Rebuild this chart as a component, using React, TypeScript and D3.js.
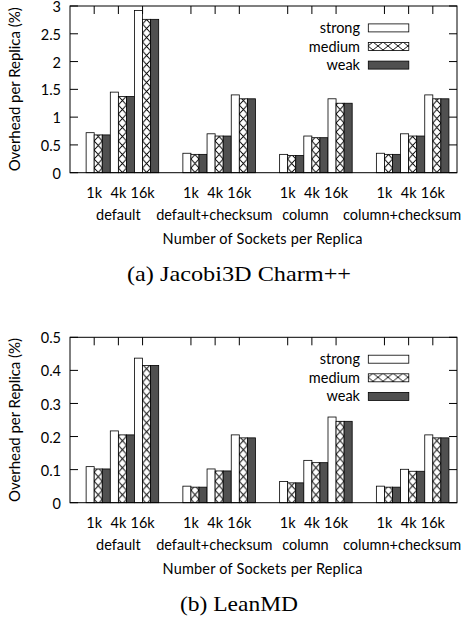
import React from "react";
import * as d3 from "d3";

// categories / cluster labels
const categories = ["default", "default+checksum", "column", "column+checksum"];
const sizes = ["1k", "4k", "16k"];
const seriesNames = ["strong", "medium", "weak"];

// Jacobi3D Charm++ (order: category x size)
const jacobiStrong = [0.72, 1.45, 2.92, 0.35, 0.7, 1.4, 0.33, 0.66, 1.33, 0.35, 0.7, 1.4];
const jacobiMedium = [0.68, 1.37, 2.76, 0.33, 0.66, 1.33, 0.31, 0.63, 1.25, 0.33, 0.66, 1.33];
const jacobiWeak = [0.68, 1.37, 2.76, 0.33, 0.66, 1.33, 0.31, 0.63, 1.25, 0.33, 0.66, 1.33];

// LeanMD
const leanStrong = [0.109, 0.217, 0.437, 0.05, 0.102, 0.205, 0.064, 0.128, 0.259, 0.05, 0.101, 0.205];
const leanMedium = [0.102, 0.205, 0.415, 0.047, 0.096, 0.196, 0.06, 0.121, 0.246, 0.047, 0.095, 0.196];
const leanWeak = [0.102, 0.205, 0.415, 0.047, 0.096, 0.196, 0.06, 0.121, 0.246, 0.047, 0.095, 0.196];

const jacobiTicks = [0, 0.5, 1, 1.5, 2, 2.5, 3];
const leanTicks = [0, 0.1, 0.2, 0.3, 0.4, 0.5];

// layout, in bar units
const UNITS = 48;
const GROUP_STEP = 12;
const GROUP_START = 2;
const groupLabelAt = [6, 17.9, 29.2, 41.2];

const W = 467;
const H = 621;
const left = 70;
const right = 457;
const sans = "Lato, 'Open Sans', sans-serif";
const fs = 14.5;
const weakFill = "#505050";

const x = d3.scaleLinear().domain([0, UNITS]).range([left, right]);

type PanelProps = {
  top: number;
  height: number;
  max: number;
  ticks: number[];
  series: number[][];
  caption: string;
  captionWidth: number;
  pid: string;
};

const Panel = ({ top, height, max, ticks, series, caption, captionWidth, pid }: PanelProps) => {
  const y = d3.scaleLinear().domain([0, max]).range([top + height, top]);
  const bottom = top + height;
  const bw = x(1) - x(0);
  const fmt = d3.format("~g");

  const clusterPos: number[] = [];
  categories.forEach((_, g) =>
    sizes.forEach((_, k) => clusterPos.push(GROUP_START + g * GROUP_STEP + k * 3))
  );

  return (
    <g>
      <defs>
        <pattern id={`hatch-${pid}`} patternUnits="userSpaceOnUse" x={x(0)} y={top} width={bw} height={9}>
          <rect width={bw} height={9} fill="white" />
          <path d={`M0,0L${bw},9M${bw},0L0,9`} stroke="black" strokeWidth={0.9} fill="none" />
        </pattern>
        <pattern id={`hatchL-${pid}`} patternUnits="userSpaceOnUse" x={368} y={top} width={10} height={8}>
          <rect width={10} height={8} fill="white" />
          <path d="M0,0L10,8M10,0L0,8" stroke="black" strokeWidth={0.9} fill="none" />
        </pattern>
      </defs>

      {/* bottom ticks (behind bars) */}
      {clusterPos.map((c, i) => (
        <line key={`bt${i}`} x1={x(c + 1)} x2={x(c + 1)} y1={bottom} y2={bottom - 8} stroke="black" />
      ))}

      {/* bars */}
      {clusterPos.map((c, i) =>
        series.map((s, j) => {
          const fill = j === 0 ? "white" : j === 1 ? `url(#hatch-${pid})` : weakFill;
          return (
            <rect
              key={`b${i}-${j}`}
              x={x(c + j)}
              y={y(s[i])}
              width={bw}
              height={bottom - y(s[i])}
              fill={fill}
              stroke="black"
              strokeWidth={0.8}
            />
          );
        })
      )}

      {/* frame */}
      <rect x={left} y={top} width={right - left} height={height} fill="none" stroke="black" strokeWidth={1} />

      {/* y ticks, mirrored */}
      {ticks.map((t) => (
        <g key={`yt${t}`}>
          <line x1={left} x2={left + 8} y1={y(t)} y2={y(t)} stroke="black" />
          <line x1={right} x2={right - 8} y1={y(t)} y2={y(t)} stroke="black" />
          <text x={61} y={y(t)} dy="0.42em" textAnchor="end" fontFamily={sans} fontSize={fs}>
            {fmt(t)}
          </text>
        </g>
      ))}

      {/* top ticks + size labels */}
      {clusterPos.map((c, i) => (
        <g key={`xt${i}`}>
          <line x1={x(c + 1)} x2={x(c + 1)} y1={top} y2={top + 8} stroke="black" />
          <text x={x(c + 1)} y={bottom + 20} dy="0.35em" textAnchor="middle" fontFamily={sans} fontSize={fs}>
            {sizes[i % 3]}
          </text>
        </g>
      ))}

      {categories.map((cat, g) => (
        <text key={cat} x={x(groupLabelAt[g])} y={bottom + 42.5} dy="0.35em" textAnchor="middle" fontFamily={sans} fontSize={fs}>
          {cat}
        </text>
      ))}

      <text x={262.5} y={bottom + 66.5} dy="0.35em" textAnchor="middle" fontFamily={sans} fontSize={fs} textLength={200}>
        Number of Sockets per Replica
      </text>

      <text
        transform={`translate(15,${top + height / 2}) rotate(-90)`}
        dy="0.35em"
        textAnchor="middle"
        fontFamily={sans}
        fontSize={15}
        textLength={164}
      >
        Overhead per Replica (%)
      </text>

      {/* legend */}
      {seriesNames.map((name, j) => {
        const cy = top + 21.9 + j * 18.6;
        const fill = j === 0 ? "white" : j === 1 ? `url(#hatchL-${pid})` : weakFill;
        return (
          <g key={name}>
            <text x={360} y={cy} dy="0.35em" textAnchor="end" fontFamily={sans} fontSize={fs}>
              {name}
            </text>
            <rect x={368.3} y={cy - 4} width={40.5} height={8} fill={fill} stroke="black" strokeWidth={0.8} />
          </g>
        );
      })}

      <text
        x={239}
        y={bottom + 101}
        dy="0.35em"
        textAnchor="middle"
        fontFamily="'Liberation Serif', serif"
        fontSize={21}
        textLength={captionWidth}
        lengthAdjust="spacingAndGlyphs"
      >
        {caption}
      </text>
    </g>
  );
};

const App = () => (
  <svg width={W} height={H} style={{ position: "absolute", left: 0, top: 0, background: "white" }}>
    <Panel
      pid="a"
      top={6}
      height={166.7}
      max={3}
      ticks={jacobiTicks}
      series={[jacobiStrong, jacobiMedium, jacobiWeak]}
      caption="(a) Jacobi3D Charm++"
      captionWidth={224}
    />
    <Panel
      pid="b"
      top={337.3}
      height={165.4}
      max={0.5}
      ticks={leanTicks}
      series={[leanStrong, leanMedium, leanWeak]}
      caption="(b) LeanMD"
      captionWidth={118}
    />
  </svg>
);

export default App;
